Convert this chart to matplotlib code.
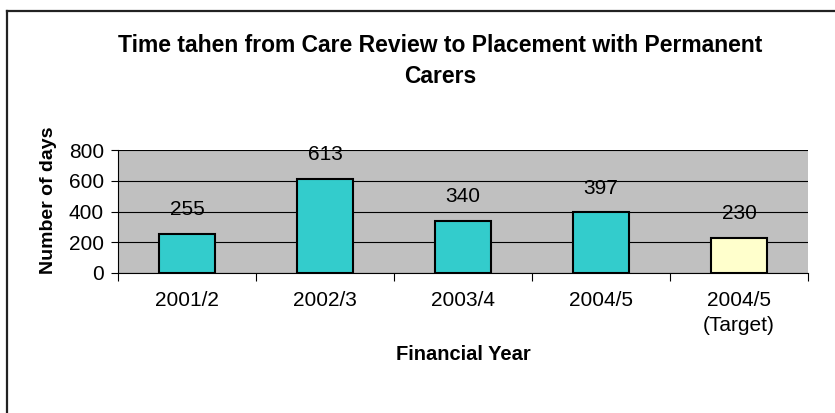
import matplotlib.pyplot as plt
from matplotlib.lines import Line2D

plt.rcParams['font.family'] = ['Liberation Sans', 'DejaVu Sans']

years = ['2001/2', '2002/3', '2003/4', '2004/5', '2004/5\n(Target)']
days = [255, 613, 340, 397, 230]
colors = ['#33CCCC', '#33CCCC', '#33CCCC', '#33CCCC', '#FFFFCC']

fig = plt.figure(figsize=(8.35, 4.13), dpi=100)
ax = fig.add_axes([118 / 835, 1 - 273 / 413, 690 / 835, 123 / 413])
ax.set_facecolor('#C0C0C0')

x = range(len(days))
ax.bar(x, days, width=0.4, color=colors, edgecolor='black', linewidth=1.5, zorder=3)
for i, v in enumerate(days):
    ax.text(i, v + 155, str(v), ha='center', va='center', fontsize=15, zorder=4,
            clip_on=False)

ax.set_xlim(-0.5, 4.5)
ax.set_ylim(0, 800)
ax.set_yticks([0, 200, 400, 600, 800])
ax.yaxis.grid(True, color='black', linewidth=0.8, zorder=1)
ax.set_xticks([i + 0.5 for i in range(-1, 5)])
ax.set_xticklabels([])
ax.set_xticks(list(x), minor=True)
ax.set_xticklabels(years, minor=True, fontsize=15, linespacing=1.4)
ax.tick_params(axis='x', which='major', direction='out', length=6, width=0.8)
ax.tick_params(axis='x', which='minor', length=0, pad=13)
ax.tick_params(axis='y', direction='out', length=5, width=0.8, labelsize=15, pad=5)
for s in ['top', 'right']:
    ax.spines[s].set_visible(False)
ax.spines['left'].set_linewidth(0.8)
ax.spines['bottom'].set_linewidth(0.8)

ax.set_ylabel('Number of days', fontsize=14, fontweight='bold')
ax.yaxis.set_label_coords(-0.088, 0.59)
fig.text(463 / 835, 1 - 354 / 413, 'Financial Year', ha='center', va='center',
         fontsize=14.5, fontweight='bold')
fig.text(440 / 835, 1 - 61 / 413,
         'Time tahen from Care Review to Placement with Permanent\nCarers',
         ha='center', va='center', fontsize=16.5, fontweight='bold', linespacing=1.4)

# top and left border lines
fig.add_artist(Line2D([7 / 835, 1], [1 - 11 / 413, 1 - 11 / 413], color='#222222', linewidth=1.6))
fig.add_artist(Line2D([7 / 835, 7 / 835], [0, 1 - 11 / 413], color='#222222', linewidth=1.6))

fig.savefig('out.png', dpi=100)
